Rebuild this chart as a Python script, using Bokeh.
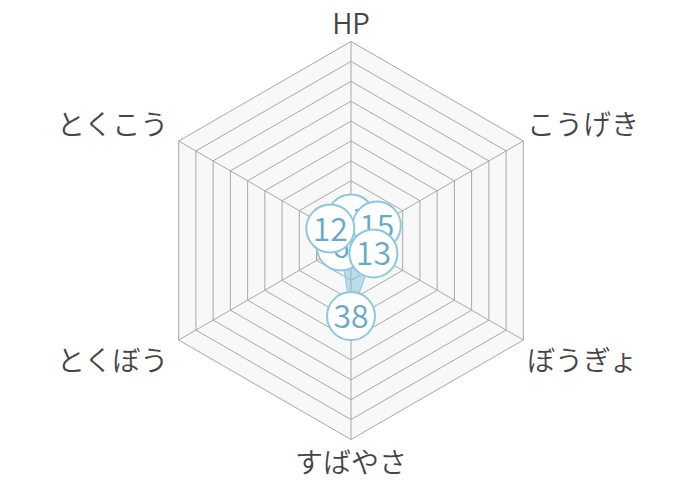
import numpy as np
from bokeh.plotting import figure
from bokeh.models import Range1d
from bokeh.embed import file_html
from bokeh.resources import INLINE
from bokeh.core.properties import value

# ---- data ----
categories = ["HP", "こうげき", "ぼうぎょ", "すばやさ", "とくぼう", "とくこう"]
stats = [11, 15, 13, 38, 6, 12]
scale_max = 100
ring_steps = [10, 20, 30, 40, 50, 60, 70, 80, 90, 100]

# ---- layout / style ----
W, H = 700, 480
PX = 1.99            # pixels per value unit
CX, CY = 350.5, 240  # chart centre in plot pixels (from left / top)
FONT = value("Noto Sans CJK JP DemiLight, Noto Sans CJK JP Light, Noto Sans CJK JP")
# label placement relative to centre, in pixels (x right, y up), with alignment
label_layout = [
    (0, 219, "center"),
    (176, 118, "left"),
    (176, -118, "left"),
    (0, -220, "center"),
    (-182, -118, "right"),
    (-182, 118, "right"),
]
draw_order = [0, 4, 1, 2, 5, 3]

x_start = -CX / PX
x_end = (W - CX) / PX
y_end = CY / PX
y_start = -(H - CY) / PX

p = figure(width=W, height=H, output_backend="svg", toolbar_location=None,
           x_range=Range1d(x_start, x_end), y_range=Range1d(y_start, y_end),
           x_axis_location=None, y_axis_location=None, min_border=0,
           outline_line_color=None, background_fill_color="white",
           border_fill_color="white")
p.grid.visible = False

n = len(categories)
ang = np.pi / 2 - 2 * np.pi * np.arange(n) / n
cosA, sinA = np.cos(ang), np.sin(ang)

# background hexagon
p.patch(list(scale_max * cosA), list(scale_max * sinA), fill_color="#f8f8f8",
        line_color=None)

# rings
xs = [list(np.append(r * cosA, r * cosA[0])) for r in ring_steps]
ys = [list(np.append(r * sinA, r * sinA[0])) for r in ring_steps]
p.multi_line(xs, ys, line_color="#a8a8a8", line_width=1)

# spokes
p.segment(x0=[0] * n, y0=[0] * n, x1=list(scale_max * cosA), y1=list(scale_max * sinA),
          line_color="#a8a8a8", line_width=1)

# data polygon
vals = np.array(stats, dtype=float)
px = vals * cosA
py = vals * sinA
p.patch(list(px), list(py), fill_color="#7fc0d8", fill_alpha=0.5,
        line_color="#8cc6dc", line_width=1)

# category labels
for i, cat in enumerate(categories):
    dx, dy, al = label_layout[i]
    p.text(x=[dx / PX], y=[dy / PX], text=[cat], text_font=FONT,
           text_font_size="28px", text_color="#454545", text_align=al,
           text_baseline="middle")

# value bubbles
for i in draw_order:
    p.scatter(x=[px[i]], y=[py[i]], marker="circle", size=48, fill_color="white",
              line_color="#8ec8de", line_width=2)
    p.text(x=[px[i]], y=[py[i]], text=[str(stats[i])], text_font=FONT,
           text_font_size="32px", text_color="#68a8c8", text_align="center",
           text_baseline="middle")

open("out.html", "w").write(file_html(p, INLINE))
